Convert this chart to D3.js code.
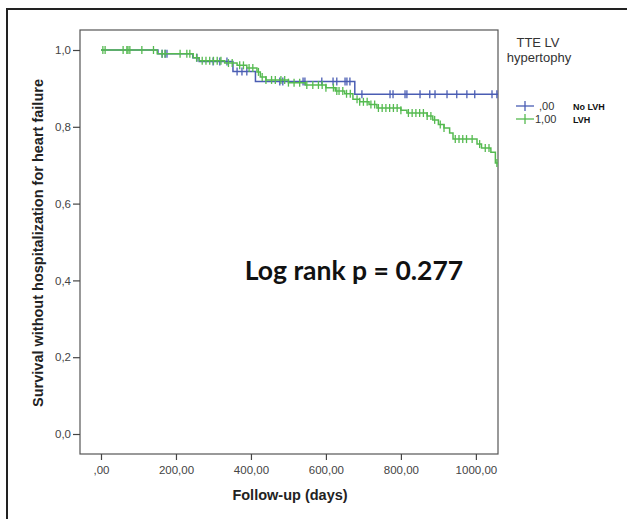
<!DOCTYPE html>
<html><head><meta charset="utf-8">
<script src="https://cdn.jsdelivr.net/npm/d3@7"></script>
<style>body{margin:0;background:#fff}svg{display:block}</style>
</head><body>
<svg id="c" width="627" height="519"></svg>
<script>
// ---- data ----
const xTicks = [0, 200, 400, 600, 800, 1000];
const xTickLabels = [",00", "200,00", "400,00", "600,00", "800,00", "1000,00"];
const yTicks = [0, 0.2, 0.4, 0.6, 0.8, 1.0];
const yTickLabels = ["0,0", "0,2", "0,4", "0,6", "0,8", "1,0"];
const groups = [",00", "1,00"];
const groupNames = ["No LVH", "LVH"];
// step times and survival after each step
const noLvhTimes = [0, 152, 245, 262, 352, 412, 677];
const noLvhSurv  = [1, 0.99, 0.98, 0.97, 0.944, 0.918, 0.885];
const noLvhCensor = [163, 171, 176, 256, 299, 317, 336, 363, 376, 389, 477, 485, 539, 544, 589, 619, 629, 651, 656, 664,
  696, 771, 779, 811, 816, 851, 877, 891, 923, 949, 976, 997, 1043, 1056];
const lvhTimes = [0, 150, 246, 262, 330, 363, 389, 416, 425, 440, 500, 545, 600, 625, 650, 672, 690, 715, 736, 800, 816,
  870, 885, 900, 915, 930, 939, 1003, 1015, 1040, 1052];
const lvhSurv  = [1, 0.99, 0.98, 0.972, 0.966, 0.96, 0.953, 0.943, 0.93, 0.922, 0.915, 0.909, 0.902, 0.893, 0.886, 0.872,
  0.865, 0.858, 0.849, 0.843, 0.836, 0.828, 0.818, 0.806, 0.797, 0.784, 0.768, 0.755, 0.745, 0.734, 0.706];
const lvhCensor = [5, 11, 59, 69, 72, 77, 109, 140, 163, 171, 211, 229, 237, 255, 270, 280, 290, 300, 310, 320, 340, 350, 370,
  380, 395, 405, 420, 430, 440, 455, 465, 480, 490, 500, 515, 530, 549, 565, 580, 590, 600, 620, 629, 635, 645, 655, 665,
  683, 690, 700, 710, 720, 730, 740, 750, 760, 770, 780, 790, 800, 820, 830, 840, 850, 860, 870, 880, 890, 905, 915,
  945, 955, 965, 975, 990, 1010, 1025, 1035, 1056];
const endTime = 1059;
const colors = ["#4a5db3", "#55ba50"];
const pText = "Log rank p = 0.277";

// ---- drawing ----
const svg = d3.select("#c");
const L = 80, R = 498, T = 30, B = 454;
const x = d3.scaleLinear().domain([-56, 1059]).range([L, R]);
const y = d3.scaleLinear().domain([0, 1]).range([434, 50]);

// outer frame (top and left)
svg.append("path").attr("d", "M7,519 V9 H627").attr("fill", "none").attr("stroke", "#222").attr("stroke-width", 2);

// plot frame
svg.append("rect").attr("x", L).attr("y", T).attr("width", R - L).attr("height", B - T)
  .attr("fill", "none").attr("stroke", "#555").attr("stroke-width", 1.2);

// y axis
const yAxis = svg.append("g").attr("transform", `translate(${L},0)`)
  .call(d3.axisLeft(y).tickValues(yTicks).tickFormat((d, i) => yTickLabels[i]).tickSize(7).tickPadding(2));
yAxis.select(".domain").remove();
yAxis.selectAll("line").attr("stroke", "#444").attr("stroke-width", 1.2);
yAxis.selectAll("text").attr("font-family", "Liberation Sans, Arial, sans-serif").attr("font-size", 11.5).attr("fill", "#444");

// x axis
const xAxis = svg.append("g").attr("transform", `translate(0,${B})`)
  .call(d3.axisBottom(x).tickValues(xTicks).tickFormat((d, i) => xTickLabels[i]).tickSize(6).tickPadding(6));
xAxis.select(".domain").remove();
xAxis.selectAll("line").attr("stroke", "#444").attr("stroke-width", 1.2);
xAxis.selectAll("text").attr("font-family", "Liberation Sans, Arial, sans-serif").attr("font-size", 11.5).attr("fill", "#444");

// axis titles
svg.append("text").attr("transform", "translate(43,243) rotate(-90)").attr("text-anchor", "middle")
  .attr("font-family", "Liberation Sans, Arial, sans-serif").attr("font-weight", "bold").attr("font-size", 14.5)
  .attr("fill", "#222").text("Survival without hospitalization for heart failure");
svg.append("text").attr("x", 290).attr("y", 500).attr("text-anchor", "middle")
  .attr("font-family", "Liberation Sans, Arial, sans-serif").attr("font-weight", "bold").attr("font-size", 14.5)
  .attr("fill", "#222").text("Follow-up (days)");

// curves
function survAt(times, surv, t) {
  let s = surv[0];
  for (let i = 0; i < times.length; i++) if (times[i] <= t) s = surv[i];
  return s;
}
const series = [
  {times: noLvhTimes, surv: noLvhSurv, cens: noLvhCensor, color: colors[0]},
  {times: lvhTimes, surv: lvhSurv, cens: lvhCensor, color: colors[1]}
];
const line = d3.line().x(d => x(d[0])).y(d => y(d[1])).curve(d3.curveStepAfter);
series.forEach(sr => {
  const pts = sr.times.map((t, i) => [t, sr.surv[i]]);
  pts.push([endTime, sr.surv[sr.surv.length - 1]]);
  const g = svg.append("g");
  g.append("path").attr("d", line(pts)).attr("fill", "none").attr("stroke", sr.color).attr("stroke-width", 1.5);
  g.selectAll("line.c").data(sr.cens).enter().append("line")
    .attr("x1", d => x(d)).attr("x2", d => x(d))
    .attr("y1", d => y(survAt(sr.times, sr.surv, d)) - 4)
    .attr("y2", d => y(survAt(sr.times, sr.surv, d)) + 4)
    .attr("stroke", sr.color).attr("stroke-width", 1.3);
});

// log rank text
svg.append("text").attr("x", 354).attr("y", 280).attr("text-anchor", "middle")
  .attr("font-family", "Lato, sans-serif").attr("font-weight", "bold").attr("font-size", 26.5)
  .attr("fill", "#111").text(pText);

// legend
const lg = svg.append("g").attr("font-family", "Liberation Sans, Arial, sans-serif");
lg.append("text").attr("x", 538).attr("y", 47).attr("text-anchor", "middle").attr("font-size", 13).attr("fill", "#333").text("TTE LV");
lg.append("text").attr("x", 539).attr("y", 62).attr("text-anchor", "middle").attr("font-size", 13).attr("fill", "#333").text("hypertophy");
groups.forEach((gname, i) => {
  const yy = 106 + i * 13;
  lg.append("line").attr("x1", 516).attr("x2", 534).attr("y1", yy).attr("y2", yy).attr("stroke", colors[i]).attr("stroke-width", 1.3);
  lg.append("line").attr("x1", 525).attr("x2", 525).attr("y1", yy - 5).attr("y2", yy + 5).attr("stroke", colors[i]).attr("stroke-width", 1.3);
  lg.append("text").attr("x", i === 0 ? 539 : 535).attr("y", yy + 4).attr("font-size", 11).attr("fill", "#333").text(gname);
  lg.append("text").attr("x", 573).attr("y", yy + 4).attr("font-size", 9).attr("font-weight", "bold").attr("fill", "#111").text(groupNames[i]);
});
</script>
</body></html>
